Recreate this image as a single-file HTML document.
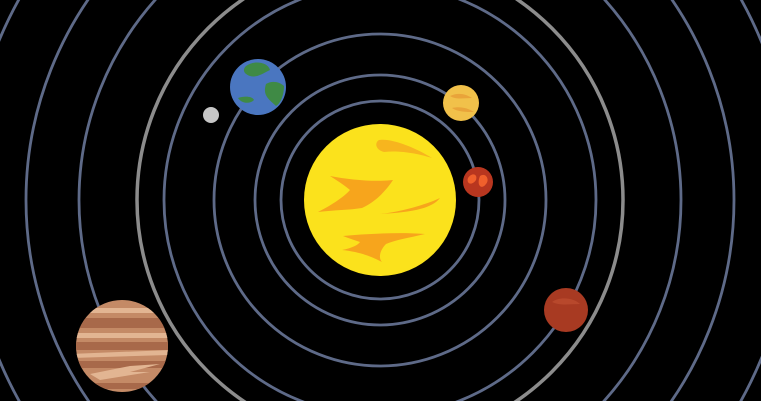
<!DOCTYPE html>
<html><head><meta charset="utf-8"><style>
html,body{margin:0;padding:0;background:#000;overflow:hidden;width:761px;height:401px}
svg{display:block;position:absolute;left:0;top:0;overflow:hidden}
</style></head><body>
<svg width="761" height="401" viewBox="0 0 761 401" overflow="hidden">
<defs><clipPath id="frame"><rect width="761" height="401"/></clipPath></defs>
<g clip-path="url(#frame)">
<rect width="761" height="401" fill="#000"/>
<g id="orbits" fill="none"></g>
<g>
<circle cx="380" cy="200" r="76" fill="#fbe21c"/>
<path d="M379,140 C392,138 416,148 432,158 C420,154 400,150 384,152 C376,150 374,143 379,140Z" fill="#f7b51e"/>
<path d="M330,176 C350,180 375,182 393,180 C385,192 375,202 362,208 C350,210 334,210 318,212 C332,205 345,196 350,190 C343,184 336,180 330,176Z" fill="#f7a51c"/>
<path d="M380,214 C400,212 425,205 440,198 C432,208 415,212 380,214Z" fill="#f7a51c"/>
<path d="M343,236 C365,234 398,232 425,234 C408,238 395,240 386,244 C380,250 378,258 382,262 C370,256 360,252 342,250 C352,248 358,245 360,242 C354,240 348,238 343,236Z" fill="#f7a51c"/>
</g>
<g>
<circle cx="478" cy="182" r="15" fill="#b8361f"/>
<path d="M468,178 C472,172 478,174 476,180 C472,186 466,184 468,178Z M480,176 C486,172 490,180 486,184 C482,190 476,186 480,176Z" fill="#f0602c"/>
</g>
<g>
<circle cx="461" cy="103" r="18" fill="#f1c14a"/>
<path d="M450,96 C458,92 466,94 472,98 C464,98 456,100 450,96Z M452,108 C460,106 468,108 474,112 C466,112 458,112 452,108Z" fill="#e9a43a"/>
</g>
<g>
<circle cx="258" cy="87" r="28" fill="#4a76c0"/>
<path d="M246,66 C254,60 268,62 270,70 C262,74 256,78 250,76 C244,74 242,70 246,66Z" fill="#3f8a45"/>
<path d="M266,84 C272,80 280,82 284,86 C284,96 280,104 276,106 C270,100 262,96 266,84Z" fill="#3f8a45"/>
<path d="M238,98 C244,96 252,96 254,100 C250,104 242,104 238,98Z" fill="#3f8a45"/>
</g>
<circle cx="211" cy="115" r="8" fill="#c6c6c6"/>
<g>
<circle cx="566" cy="310" r="22" fill="#a83a22"/>
<path d="M552,302 C560,296 574,298 580,304 C570,304 560,306 552,302Z" fill="#b8482c"/>
</g>
<g>
<clipPath id="jc"><circle cx="122" cy="346" r="46"/></clipPath>
<circle cx="122" cy="346" r="46" fill="#c48a66"/>
<g clip-path="url(#jc)">
<rect x="70" y="308" width="110" height="5" fill="#e2b592"/>
<rect x="70" y="318" width="110" height="10" fill="#a8694a"/>
<rect x="70" y="333" width="110" height="5" fill="#e2b592"/>
<rect x="70" y="342" width="110" height="8" fill="#a8694a"/>
<path d="M70,354 L170,350 L170,355 L70,358Z" fill="#e2b592"/>
<rect x="70" y="361" width="110" height="7" fill="#a8694a"/>
<path d="M90,374 L130,366 L160,364 L130,372 L150,372 L100,380Z" fill="#e2b592"/>
<rect x="70" y="383" width="110" height="6" fill="#a8694a"/>
</g>
</g>
</g>
</svg>
<script>
var orbitRadii=[99,125,166,216,243,301,354,413];
var g=document.getElementById('orbits');


orbitRadii.forEach(function(r,i){
  var c=document.createElementNS('http://www.w3.org/2000/svg','circle');
  c.setAttribute('cx',380);c.setAttribute('cy',200);c.setAttribute('r',r);
  var gray=(r===243);
  c.setAttribute('stroke',gray?'#8c8c8c':'#5e6a88');
  c.setAttribute('stroke-width',gray?3.5:2.8);
  
  
  g.appendChild(c);
});
</script>
</body></html>
